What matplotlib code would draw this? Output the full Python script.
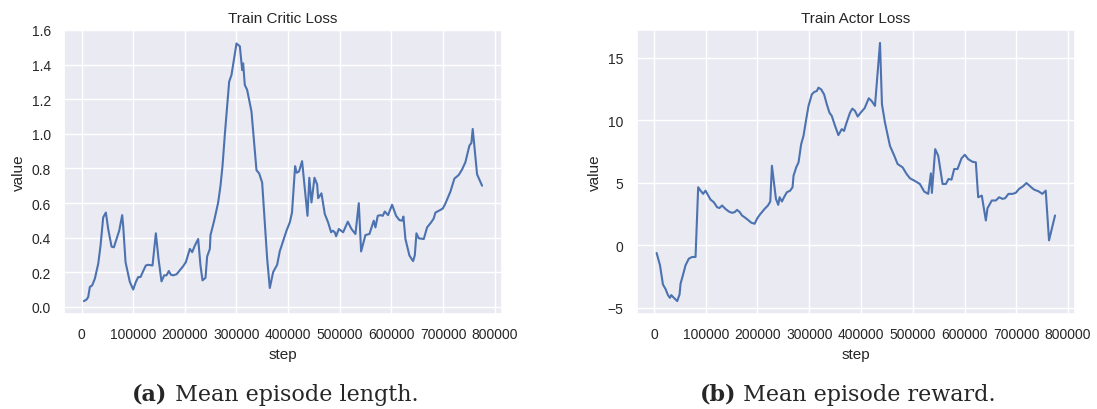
import matplotlib
matplotlib.use("Agg")
import matplotlib.pyplot as plt
import seaborn as sns

critic_step = [4500, 9700, 12900, 16100, 20600, 25800, 32300, 36800, 41900, 47100,
               51600, 58100, 62600, 67700, 72900, 78700, 80600, 85200, 93500, 100000,
               105200, 109700, 114200, 119400, 124500, 129000, 137400, 143900, 149000, 154800,
               160000, 164500, 169000, 172900, 177400, 183900, 190300, 196800, 201900, 209700,
               214200, 219400, 225800, 230300, 234200, 240000, 243200, 248400, 249700, 256800,
               264500, 269000, 272900, 277400, 285800, 290300, 300000, 306500, 311000, 312900,
               316100, 320600, 324500, 329000, 334200, 338700, 343900, 349700, 354800, 359400,
               364500, 371000, 378700, 383900, 391600, 396800, 403200, 407500, 413500, 416500,
               421000, 427000, 437500, 441000, 445200, 451000, 456100, 458100, 464500, 471000,
               477400, 483200, 486500, 490300, 492900, 498100, 506500, 515500, 522600, 530300,
               536800, 541300, 549700, 557400, 565800, 569000, 573500, 578700, 583200, 587100,
               593500, 601300, 609000, 615500, 620600, 623200, 627100, 634800, 641900, 645200,
               648400, 652900, 662600, 669000, 676800, 681900, 685200, 691600, 699400, 704500,
               714200, 721900, 730300, 736800, 743200, 751000, 754800, 757400, 765800, 775500]
critic_value = [0.033, 0.042, 0.057, 0.115, 0.124, 0.163, 0.249, 0.354, 0.517, 0.545,
                0.450, 0.348, 0.344, 0.392, 0.440, 0.530, 0.469, 0.258, 0.144, 0.100,
                0.144, 0.172, 0.172, 0.207, 0.239, 0.243, 0.239, 0.425, 0.278, 0.147,
                0.182, 0.182, 0.207, 0.186, 0.182, 0.188, 0.211, 0.235, 0.258, 0.335,
                0.316, 0.354, 0.392, 0.239, 0.153, 0.168, 0.291, 0.335, 0.415, 0.498,
                0.603, 0.699, 0.813, 0.995, 1.301, 1.340, 1.522, 1.506, 1.368, 1.407,
                1.282, 1.254, 1.196, 1.129, 0.947, 0.790, 0.771, 0.718, 0.488, 0.278,
                0.109, 0.201, 0.243, 0.322, 0.392, 0.440, 0.488, 0.545, 0.813, 0.775,
                0.782, 0.842, 0.526, 0.746, 0.603, 0.746, 0.708, 0.628, 0.656, 0.536,
                0.488, 0.431, 0.440, 0.431, 0.408, 0.450, 0.431, 0.492, 0.450, 0.421,
                0.599, 0.320, 0.415, 0.421, 0.498, 0.459, 0.526, 0.530, 0.526, 0.551,
                0.530, 0.590, 0.526, 0.501, 0.498, 0.522, 0.392, 0.297, 0.264, 0.297,
                0.425, 0.396, 0.392, 0.459, 0.488, 0.511, 0.545, 0.555, 0.568, 0.597,
                0.666, 0.741, 0.762, 0.794, 0.836, 0.932, 0.947, 1.028, 0.766, 0.700]

actor_step = [5100, 11600, 17300, 22500, 27000, 30800, 33400, 38500, 44900, 49400,
              51400, 55900, 61000, 67400, 73800, 80300, 85400, 89900, 95000, 99500,
              104000, 109100, 115600, 122000, 126500, 131600, 138000, 144500, 150900, 156000,
              160500, 165700, 170100, 176600, 183000, 188100, 194500, 199000, 204200, 208700,
              213800, 220200, 224700, 227900, 232400, 235600, 240100, 242700, 247200, 252300,
              256800, 263200, 267700, 269700, 274800, 279300, 284400, 288900, 294100, 298600,
              305000, 309500, 314600, 317800, 323000, 328700, 333900, 339000, 343500, 349900,
              356300, 362800, 367300, 371100, 375600, 378800, 383300, 388400, 393600, 399400,
              407000, 415000, 420600, 427000, 436700, 440500, 446300, 455900, 464300, 470700,
              480400, 488100, 494500, 502900, 513800, 522200, 529900, 535000, 537000, 543400,
              549200, 557600, 564000, 569100, 574900, 580100, 586500, 594200, 600600, 607100,
              615400, 621900, 626400, 633400, 641200, 644400, 652700, 660500, 666900, 673300,
              678500, 684900, 692600, 699000, 705500, 713200, 719600, 726700, 734400, 742800,
              750500, 756900, 763300, 774900]
actor_value = [-0.61, -1.59, -3.13, -3.51, -3.98, -4.20, -3.98, -4.20, -4.46, -3.93,
               -3.05, -2.39, -1.59, -1.06, -0.93, -0.93, 4.65, 4.38, 4.12, 4.38,
               4.04, 3.67, 3.45, 3.05, 2.99, 3.19, 2.92, 2.71, 2.60, 2.66,
               2.84, 2.66, 2.39, 2.20, 1.99, 1.81, 1.73, 2.12, 2.44, 2.66,
               2.92, 3.19, 3.51, 6.37, 4.78, 3.72, 3.24, 3.85, 3.51, 3.93,
               4.25, 4.38, 4.65, 5.58, 6.24, 6.64, 8.10, 8.76, 10.09, 11.16,
               12.08, 12.27, 12.35, 12.62, 12.48, 12.08, 11.29, 10.62, 10.36, 9.56,
               8.82, 9.30, 9.16, 9.69, 10.23, 10.62, 10.94, 10.76, 10.31, 10.62,
               10.98, 11.77, 11.55, 11.16, 16.20, 11.29, 9.83, 7.97, 7.17, 6.51,
               6.24, 5.71, 5.37, 5.18, 4.91, 4.30, 4.12, 5.76, 4.20, 7.70,
               7.17, 4.91, 4.91, 5.31, 5.26, 6.11, 6.11, 6.96, 7.25, 6.90,
               6.69, 6.64, 3.85, 3.98, 1.99, 2.97, 3.59, 3.59, 3.85, 3.72,
               3.77, 4.12, 4.12, 4.20, 4.52, 4.73, 4.99, 4.73, 4.46, 4.33,
               4.12, 4.38, 0.40, 2.39]

sns.set_theme(style="darkgrid")
plt.rcParams['font.family'] = ['Liberation Sans', 'DejaVu Sans']

fig = plt.figure(figsize=(10.97, 4.10), dpi=100)
ax1 = fig.add_axes([0.0583, 0.2317, 0.3993, 0.6927])
ax2 = fig.add_axes([0.5804, 0.2317, 0.3995, 0.6927])

panels = [
    (ax1, critic_step, critic_value, "Train Critic Loss", "(a)", " Mean episode length.", 0.251),
    (ax2, actor_step, actor_value, "Train Actor Loss", "(b)", " Mean episode reward.", 0.773),
]

for ax, xs, ys, title, tag, caption, cx in panels:
    ax.plot(xs, ys, color="#4C72B0", linewidth=1.5)
    ax.set_title(title, fontsize=11, color="#262626")
    ax.set_xlabel("step", fontsize=11)
    ax.set_ylabel("value", fontsize=11)
    ax.set_xticks(range(0, 800001, 100000))
    ax.tick_params(labelsize=10)
    ax.ticklabel_format(axis="x", style="plain")

ax1.set_yticks([0.0, 0.2, 0.4, 0.6, 0.8, 1.0, 1.2, 1.4, 1.6])
ax1.set_yticklabels(["0.0", "0.2", "0.4", "0.6", "0.8", "1.0", "1.2", "1.4", "1.6"])
ax2.set_yticks([-5, 0, 5, 10, 15])

# captions below each panel, bold tag + serif text
fig.canvas.draw()
r = fig.canvas.get_renderer()
for ax, xs, ys, title, tag, caption, cx in panels:
    t1 = fig.text(0, 0.022, tag, fontsize=16, family="DejaVu Serif",
                  weight="bold", va="baseline")
    t2 = fig.text(0, 0.022, caption, fontsize=16, family="DejaVu Serif", va="baseline")
    w1 = t1.get_window_extent(r).width / fig.bbox.width
    w2 = t2.get_window_extent(r).width / fig.bbox.width
    x0 = cx - (w1 + w2) / 2
    t1.set_x(x0)
    t2.set_x(x0 + w1)

fig.savefig("out.png", dpi=100)
